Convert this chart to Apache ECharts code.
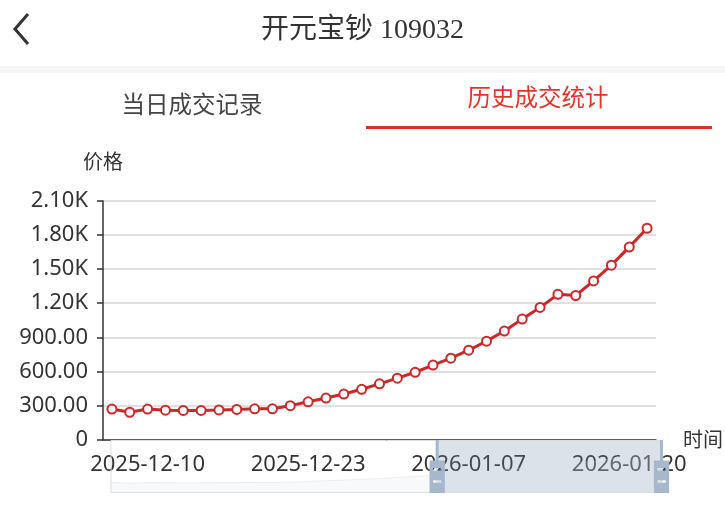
<!DOCTYPE html>
<html><head><meta charset="utf-8">
<script src="https://cdn.jsdelivr.net/npm/echarts@6/dist/echarts.min.js"></script>
<style>html,body{margin:0;padding:0;background:#fff;}#c{width:725px;height:505px;}</style>
</head><body><div id="c"></div>
<script>
const categories = ['2025-12-08','2025-12-09','2025-12-10','2025-12-11','2025-12-12','2025-12-15','2025-12-16','2025-12-17','2025-12-18','2025-12-19','2025-12-22','2025-12-23','2025-12-24','2025-12-25','2025-12-26','2025-12-29','2025-12-30','2025-12-31','2026-01-05','2026-01-06','2026-01-07','2026-01-08','2026-01-09','2026-01-12','2026-01-13','2026-01-14','2026-01-15','2026-01-16','2026-01-19','2026-01-20','2026-01-21'];
const prices = [268,240,268,258,256,256,260,265,270,270,298,332,365,400,442,490,540,592,655,716,786,866,955,1060,1163,1278,1268,1396,1535,1694,1860];
const xTickLabels = ['2025-12-10','2025-12-23','2026-01-07','2026-01-20'];
const yTicks = [0,300,600,900,1200,1500,1800,2100];
const titleText = '开元宝钞 109032';
const tabs = ['当日成交记录','历史成交统计'];
const zoomWindow = [59,100];

const chart = echarts.init(document.getElementById('c'), null, {renderer:'canvas'});
const showIdx = (i) => xTickLabels.indexOf(categories[i]) >= 0;
const fmtY = (v) => v === 0 ? '0' : (v >= 1000 ? (v/1000).toFixed(2) + 'K' : v.toFixed(2));
// handle drawn flipped vertically by the slider: body at path top = screen bottom
const handlePath = 'path://M0,0H15V32H9V52H6V32H0Z M3.5,10V12.5H11.5V10Z M3.5,22V24.5H11.5V22Z';

chart.setOption({
  animation:false,
  title:{text:titleText,left:'center',top:12,textStyle:{fontFamily:'"Liberation Serif","Noto Sans CJK SC"',fontSize:28,fontWeight:'normal',color:'#333'}},
  graphic:[
    {type:'polyline',shape:{points:[[28,14],[15,29],[28,44]]},style:{stroke:'#333',lineWidth:3,fill:null}},
    {type:'rect',shape:{x:0,y:66,width:725,height:7},style:{fill:'#f5f5f5'}},
    {type:'text',style:{text:tabs[0],x:192,y:104,align:'center',verticalAlign:'middle',font:'23.5px "Noto Sans CJK SC"',fill:'#444'}},
    {type:'text',style:{text:tabs[1],x:538,y:97,align:'center',verticalAlign:'middle',font:'23.5px "Noto Sans CJK SC"',fill:'#e0352d'}},
    {type:'rect',shape:{x:366,y:126,width:346,height:3},style:{fill:'#d9312b'}}
  ],
  grid:[{left:103,right:69,top:201,bottom:65.5},{left:108,right:65,top:440,height:53,show:false}],
  xAxis:[{
    type:'category',data:categories,boundaryGap:true,
    name:'时间',nameGap:27,nameTextStyle:{fontSize:20,color:'#333',fontFamily:'"Noto Sans CJK SC"'},
    axisLine:{lineStyle:{color:'#333',width:1.5}},
    axisTick:{interval:showIdx,length:6,lineStyle:{color:'#333',width:1.5}},
    axisLabel:{interval:showIdx,fontSize:22,color:'#333',fontFamily:'"Noto Sans"',margin:14},
    splitLine:{show:false}
  },{type:'category',gridIndex:1,data:categories,show:false,boundaryGap:false}],
  yAxis:[{
    type:'value',min:yTicks[0],max:yTicks[yTicks.length-1],interval:yTicks[1]-yTicks[0],
    name:'价格',nameGap:30,nameTextStyle:{fontSize:20,color:'#333',fontFamily:'"Noto Sans CJK SC"'},
    axisLine:{show:true,lineStyle:{color:'#333',width:1.5}},
    axisTick:{show:true,length:6,lineStyle:{color:'#333',width:1.5}},
    axisLabel:{formatter:fmtY,fontSize:22,color:'#333',fontFamily:'"Noto Sans"',margin:15},
    splitLine:{lineStyle:{color:'#e0e0e0',width:2}}
  },{type:'value',gridIndex:1,show:false}],
  dataZoom:[{
    type:'slider',xAxisIndex:1,start:zoomWindow[0],end:zoomWindow[1],
    left:108,right:65,top:440,height:53,
    backgroundColor:'rgba(0,0,0,0)',borderColor:'#ddd',
    fillerColor:'rgba(115,139,173,0.25)',
    handleIcon:handlePath,handleSize:'100%',
    handleStyle:{color:'#a7b7cc',borderWidth:0,borderColor:'rgba(0,0,0,0)'},
    moveHandleSize:0,showDetail:false,brushSelect:false,
    dataBackground:{lineStyle:{color:'#2f4554',opacity:0.15,width:0.5},areaStyle:{color:'#2f4554',opacity:0.03}},
    selectedDataBackground:{lineStyle:{color:'#ffffff',opacity:0.6,width:0.5},areaStyle:{color:'#ffffff',opacity:0.2}}
  }],
  series:[{
    type:'line',data:prices,symbol:'emptyCircle',symbolSize:9,
    lineStyle:{color:'#c9292b',width:3},itemStyle:{color:'#c9292b',borderWidth:2}
  },{
    type:'line',xAxisIndex:1,yAxisIndex:1,data:prices,showSymbol:false,silent:true,
    lineStyle:{opacity:0},itemStyle:{opacity:0}
  }]
});
</script></body></html>
